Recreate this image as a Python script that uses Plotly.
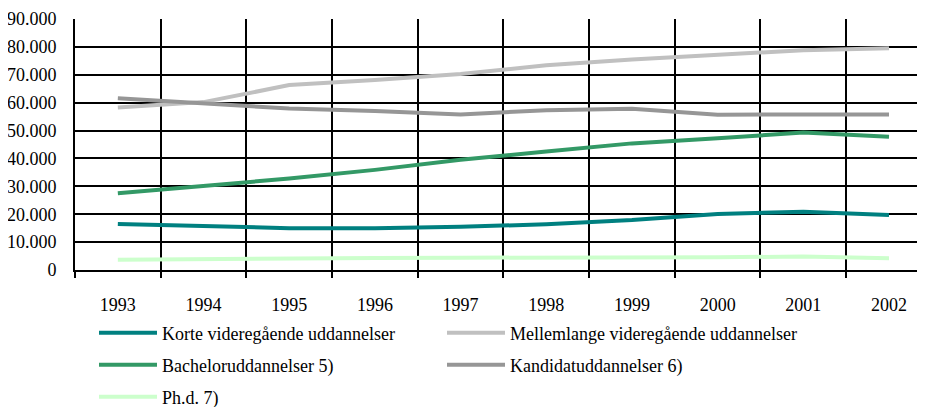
import plotly.graph_objects as go

years = ["1993", "1994", "1995", "1996", "1997", "1998", "1999", "2000", "2001", "2002"]
korte = [16500, 15600, 15000, 15000, 15500, 16400, 17900, 20100, 20900, 19700]
mellemlange = [58300, 60200, 66300, 68100, 70300, 73400, 75500, 77300, 78800, 79500]
bachelor = [27500, 30200, 32800, 35900, 39500, 42500, 45400, 47200, 49300, 47800]
kandidat = [61600, 59600, 57900, 57000, 55800, 57300, 57800, 55700, 55700, 55800]
phd = [3700, 4000, 4300, 4300, 4400, 4400, 4500, 4600, 4800, 4200]

names = ["Korte videregående uddannelser", "Mellemlange videregående uddannelser",
         "Bacheloruddannelser 5)", "Kandidatuddannelser 6)", "Ph.d. 7)"]
colors = ["#008080", "#C0C0C0", "#339966", "#969696", "#CCFFCC"]
series = [korte, mellemlange, bachelor, kandidat, phd]
legend_ids = ["legend2", "legend3", "legend4", "legend5", "legend6"]

fig = go.Figure()
for n, c, s, lg in zip(names, colors, series, legend_ids):
    fig.add_trace(go.Scatter(x=years, y=s, name=n, mode="lines",
                             line=dict(color=c, width=4), legend=lg))

FONT = "Liberation Serif"
W, H = 917, 399   # page body has an 8px margin
OFF = 8

def leg(px, py):
    # px, py: page pixel position (legend left / row centre)
    return dict(orientation="h", xref="container", yref="container",
                x=(px - OFF) / W, y=1 - (py - OFF) / H,
                xanchor="left", yanchor="middle",
                itemwidth=58,
                font=dict(family=FONT, size=18, color="black"),
                bgcolor="rgba(0,0,0,0)")

fig.update_layout(
    width=W, height=H,
    margin=dict(l=67, r=0, t=11, b=137, autoexpand=False),
    plot_bgcolor="white", paper_bgcolor="white",
    separators=",.",
    showlegend=True,
    font=dict(family=FONT, size=18, color="black"),
    xaxis=dict(type="category", range=[-0.5, 9.42], tickson="boundaries",
               showgrid=True, gridcolor="black", gridwidth=2,
               ticks="outside", ticklen=6, tickwidth=2, tickcolor="black",
               showline=True, linecolor="black", linewidth=2,
               ticklabelstandoff=17, zeroline=False, automargin=False,
               tickfont=dict(family=FONT, size=18)),
    yaxis=dict(range=[0, 90000], dtick=10000, tickformat=",d",
               showgrid=True, gridcolor="black", gridwidth=2,
               showline=True, linecolor="black", linewidth=2,
               zeroline=False, ticks="", ticklabelstandoff=13, automargin=False,
               tickfont=dict(family=FONT, size=18)),
    legend2=leg(94, 333),
    legend3=leg(442, 333),
    legend4=leg(94, 365),
    legend5=leg(442, 365),
    legend6=leg(94, 397),
)

fig.write_html("out.html")
